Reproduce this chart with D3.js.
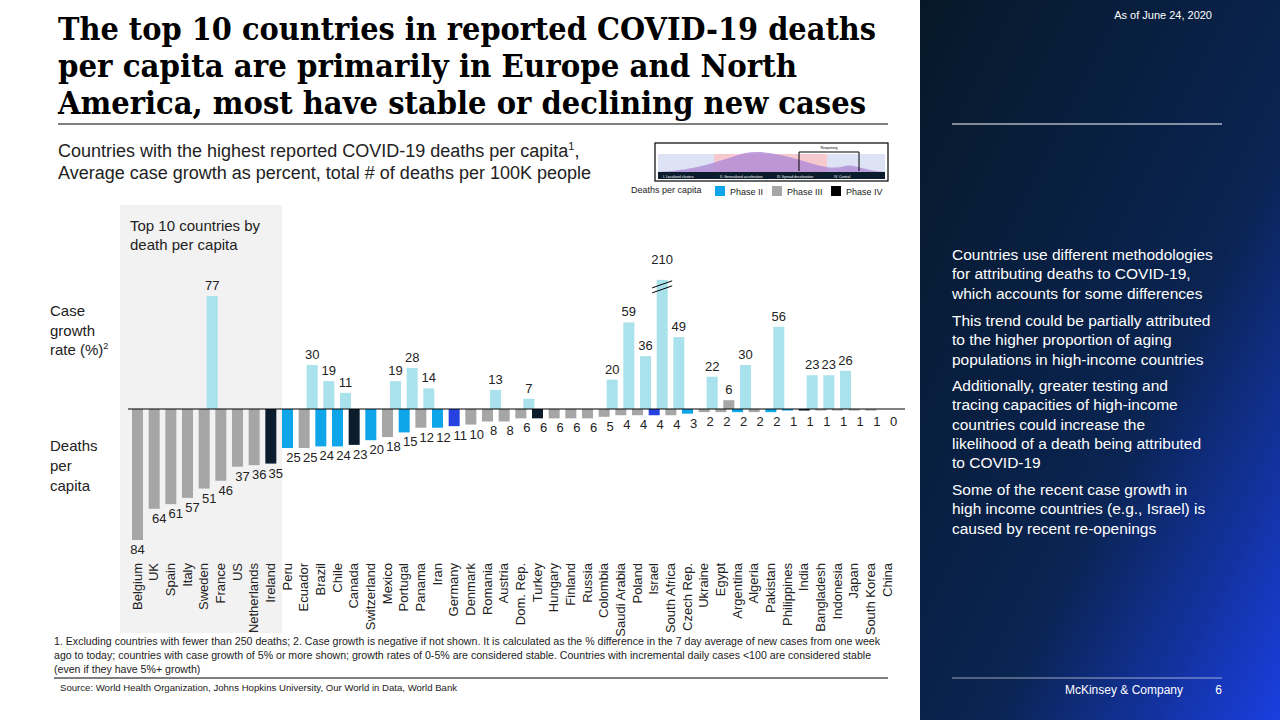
<!DOCTYPE html>
<html><head><meta charset="utf-8">
<script src="https://cdn.jsdelivr.net/npm/d3@7"></script>
<style>body{margin:0;background:#fff;font-family:"Liberation Sans",Arial,sans-serif}</style>
</head><body>
<svg id="c" width="1280" height="720"></svg>
<script>
const countries=["Belgium","UK","Spain","Italy","Sweden","France","US","Netherlands","Ireland","Peru","Ecuador","Brazil","Chile","Canada","Switzerland","Mexico","Portugal","Panama","Iran","Germany","Denmark","Romania","Austria","Dom. Rep.","Turkey","Hungary","Finland","Russia","Colombia","Saudi Arabia","Poland","Israel","South Africa","Czech Rep.","Ukraine","Egypt","Argentina","Algeria","Pakistan","Philippines","India","Bangladesh","Indonesia","Japan","South Korea","China"];
const deaths=[84,64,61,57,51,46,37,36,35,25,25,24,24,23,20,18,15,12,12,11,10,8,8,6,6,6,6,6,5,4,4,4,4,3,2,2,2,2,2,1,1,1,1,1,1,0];
const phase=["III","III","III","III","III","III","III","III","IV","II","III","II","II","IV","II","III","II","III","II","I","III","III","III","III","IV","III","III","III","III","III","III","I","III","II","III","III","II","III","II","II","IV","III","III","III","III","III"];
const growth=[null,null,null,null,77,null,null,null,null,null,30,19,11,null,null,19,28,14,null,null,null,13,null,7,null,null,null,null,20,59,36,210,49,null,22,6,30,null,56,null,23,23,26,null,null,null];
const stableGrowth=["Egypt"];
const legendItems=[["Phase II","#0ea5e9"],["Phase III","#a6a6a6"],["Phase IV","#000000"]];
const colors={"I":"#2541e0","II":"#0ea5e9","III":"#a6a6a6","IV":"#0b1c2d"};

const svg=d3.select("#c");
const defs=svg.append("defs");
const g=defs.append("linearGradient").attr("id","bg").attr("x1","0").attr("y1","0").attr("x2","1").attr("y2","1");
g.append("stop").attr("offset","0").attr("stop-color","#061828");
g.append("stop").attr("offset","0.6").attr("stop-color","#0a2452");
g.append("stop").attr("offset","1").attr("stop-color","#1a3ee0");
svg.append("rect").attr("x",920).attr("y",0).attr("width",360).attr("height",720).attr("fill","url(#bg)");
svg.append("text").attr("x",1212).attr("y",19).attr("fill","#fff").attr("font-size",11).attr("text-anchor","end").text("As of June 24, 2020");
svg.append("line").attr("x1",952).attr("x2",1222).attr("y1",124).attr("y2",124).attr("stroke","#fff");
svg.append("line").attr("x1",952).attr("x2",1222).attr("y1",678).attr("y2",678).attr("stroke","#fff").attr("stroke-width",0.6);
svg.append("text").attr("x",1183).attr("y",694).attr("fill","#fff").attr("font-size",12).attr("text-anchor","end").text("McKinsey & Company");
svg.append("text").attr("x",1222).attr("y",694).attr("fill","#fff").attr("font-size",12).attr("text-anchor","end").text("6");
const side=[["Countries use different methodologies","for attributing deaths to COVID-19,","which accounts for some differences"],["This trend could be partially attributed","to the higher proportion of aging","populations in high-income countries"],["Additionally, greater testing and","tracing capacities of high-income","countries could increase the","likelihood of a death being attributed","to COVID-19"],["Some of the recent case growth in","high income countries (e.g., Israel) is","caused by recent re-openings"]];
const sideY=[260,326,391,495];
side.forEach((p,i)=>p.forEach((l,j)=>svg.append("text").attr("x",952).attr("y",sideY[i]+j*19.3).attr("fill","#fff").attr("font-size",15.5).text(l)));

// title
const tl=[["The top 10 countries in reported COVID-19 deaths",818],["per capita are primarily in Europe and North",739],["America, most have stable or declining new cases",808]];
tl.forEach((l,i)=>
 svg.append("text").attr("x",58).attr("y",40+i*37).attr("font-family","DejaVu Serif,serif").attr("font-weight","bold").attr("font-size",31).attr("fill","#000").attr("textLength",l[1]).attr("lengthAdjust","spacingAndGlyphs").text(l[0]));
svg.append("line").attr("x1",58).attr("x2",888).attr("y1",124).attr("y2",124).attr("stroke","#000");
const st=svg.append("text").attr("x",58).attr("y",157).attr("font-size",18).attr("fill","#222");
st.append("tspan").text("Countries with the highest reported COVID-19 deaths per capita");
st.append("tspan").attr("font-size",11).attr("dy",-7).text("1");
st.append("tspan").attr("dy",7).text(",");
svg.append("text").attr("x",58).attr("y",179).attr("font-size",18).attr("fill","#222").text("Average case growth as percent, total # of deaths per 100K people");

// mini legend figure
const m=svg.append("g");
m.append("rect").attr("x",655).attr("y",143).attr("width",233).attr("height",38).attr("fill","#fff").attr("stroke","#000").attr("stroke-width",1.2);
m.append("rect").attr("x",658).attr("y",154).attr("width",227).attr("height",18).attr("fill","#dde3f5");
m.append("rect").attr("x",714).attr("y",154).attr("width",113).attr("height",18).attr("fill","#f6c9cf");
m.append("path").attr("d","M658,172 C700,170 720,160 745,153 C760,150 780,154 800,160 C820,166 830,170 845,166 C855,164 860,170 885,172 Z").attr("fill","#b08ad6").attr("opacity",0.8);
m.append("rect").attr("x",658).attr("y",172).attr("width",227).attr("height",7).attr("fill","#0b1c2d");
["I. Localized clusters","II. Generalized acceleration","III. Spread deceleration","IV. Control"].forEach((t,i)=>m.append("text").attr("x",663+i*57).attr("y",177.5).attr("font-size",3.5).attr("fill","#fff").text(t));
m.append("path").attr("d","M799,171 V152 H859 V171").attr("fill","none").attr("stroke","#000");
m.append("text").attr("x",829).attr("y",149).attr("font-size",3.5).attr("text-anchor","middle").text("Reopening");
svg.append("text").attr("x",631).attr("y",193).attr("font-size",9).attr("fill","#222").text("Deaths per capita");
legendItems.forEach((d,i)=>{const x=[715,772,831][i];
 svg.append("rect").attr("x",x).attr("y",186).attr("width",10).attr("height",10).attr("fill",d[1]);
 svg.append("text").attr("x",x+15).attr("y",195).attr("font-size",9).attr("fill","#222").text(d[0]);});

// chart
const x=d3.scalePoint().domain(countries).range([137.5,887.5]);
const y0=409;
const yD=d3.scaleLinear().domain([0,84]).range([y0,y0+131]);
const yG=d3.scaleLinear().domain([0,77]).range([y0,y0-113]);
const capG=88;
svg.append("rect").attr("x",120).attr("y",205).attr("width",162).attr("height",428).attr("fill","#f2f2f2");
svg.append("text").attr("x",130).attr("y",231).attr("font-size",15).attr("fill","#222").text("Top 10 countries by");
svg.append("text").attr("x",130).attr("y",250).attr("font-size",15).attr("fill","#222").text("death per capita");
["Case","growth"].forEach((t,i)=>svg.append("text").attr("x",50).attr("y",316+i*19.5).attr("font-size",15).attr("fill","#222").text(t));
const rt=svg.append("text").attr("x",50).attr("y",355).attr("font-size",15).attr("fill","#222");
rt.append("tspan").text("rate (%)");rt.append("tspan").attr("font-size",9).attr("dy",-6).text("2");
["Deaths","per","capita"].forEach((t,i)=>svg.append("text").attr("x",50).attr("y",451+i*20).attr("font-size",15).attr("fill","#222").text(t));

const bw=11;
countries.forEach((c,i)=>{
 const cx=x(c);
 const d=deaths[i];
 svg.append("rect").attr("x",cx-bw/2).attr("y",y0).attr("width",bw).attr("height",Math.max(yD(d)-y0,d>0?1.5:0)).attr("fill",colors[phase[i]]);
 const ly=yD(d)+14;
 svg.append("text").attr("x",cx+(i>=1&&i<=8?5:(i>=9?6:0))).attr("y",Math.max(ly,i>=29?426:ly)).attr("font-size",13).attr("text-anchor","middle").attr("fill","#222").text(d);
 const gv=growth[i];
 if(gv!=null){
  const gx=cx+8;
  const top=yG(Math.min(gv,capG));
  svg.append("rect").attr("x",gx-bw/2).attr("y",top).attr("width",bw).attr("height",y0-top).attr("fill",stableGrowth.includes(c)?"#a6a6a6":"#a9e1ec");
  svg.append("text").attr("x",gx).attr("y",top-(gv>capG?16:6)).attr("font-size",13).attr("text-anchor","middle").attr("fill","#222").text(gv);
  if(gv>capG){[0,5].forEach(o=>svg.append("line").attr("x1",gx-10).attr("x2",gx+10).attr("y1",top+8+o).attr("y2",top+1+o).attr("stroke","#000"));}
 }
 svg.append("text").attr("transform",`translate(${cx+4},563) rotate(-90)`).attr("font-size",13).attr("text-anchor","end").attr("fill","#222").text(c);
});
svg.append("line").attr("x1",128).attr("x2",905).attr("y1",y0).attr("y2",y0).attr("stroke","#000");

["1. Excluding countries with fewer than 250 deaths; 2. Case growth is negative if not shown. It is calculated as the % difference in the 7 day average of new cases from one week","ago to today; countries with case growth of 5% or more shown; growth rates of 0-5% are considered stable. Countries with incremental daily cases <100 are considered stable","(even if they have 5%+ growth)"].forEach((t,i)=>svg.append("text").attr("x",54).attr("y",645+i*14).attr("font-size",10.6).attr("fill","#222").text(t));
svg.append("line").attr("x1",54).attr("x2",888).attr("y1",678).attr("y2",678).attr("stroke","#000");
svg.append("text").attr("x",60).attr("y",691).attr("font-size",9.6).attr("fill","#222").text("Source: World Health Organization, Johns Hopkins University, Our World in Data, World Bank");
</script></body></html>
